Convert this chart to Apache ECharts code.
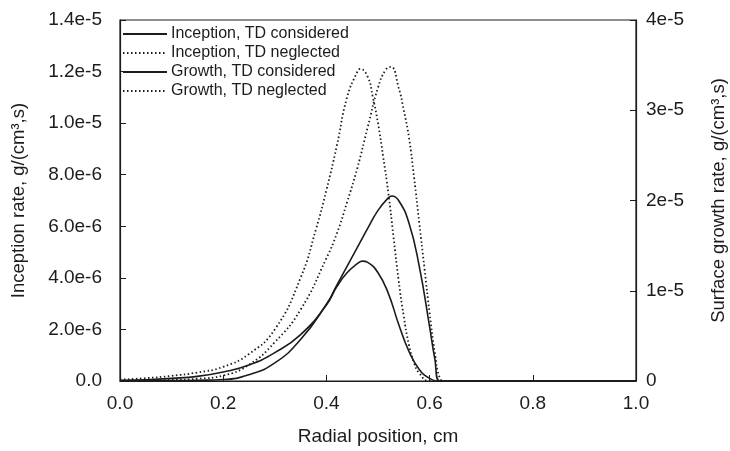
<!DOCTYPE html>
<html>
<head>
<meta charset="utf-8">
<script src="https://cdn.jsdelivr.net/npm/echarts@6/dist/echarts.min.js"></script>
<style>
html,body{margin:0;padding:0;background:#fff;}
#c{width:730px;height:451px;}
</style>
</head>
<body>
<div id="c"></div>
<script>
// ---- Data ----
const seriesNames = ['Inception, TD considered', 'Inception, TD neglected', 'Growth, TD considered', 'Growth, TD neglected'];

// Inception, TD considered (left axis, g/(cm3,s))
const incConsX = [0, 0.05, 0.1, 0.15, 0.2, 0.25, 0.3, 0.35, 0.4, 0.42, 0.44, 0.46, 0.47, 0.48, 0.5, 0.52, 0.54, 0.56, 0.58, 0.6, 0.62, 0.7, 1.0];
const incConsY = [3e-8, 5e-8, 1e-7, 1.8e-7, 3.5e-7, 6.2e-7, 1.1e-6, 1.8e-6, 2.95e-6, 3.65e-6, 4.2e-6, 4.55e-6, 4.65e-6, 4.6e-6, 4.2e-6, 3.4e-6, 2.2e-6, 1.15e-6, 4.5e-7, 1e-7, 0, 0, 0];

// Inception, TD neglected (left axis)
const incNegX = [0, 0.05, 0.1, 0.15, 0.2, 0.25, 0.3, 0.35, 0.38, 0.4, 0.42, 0.44, 0.46, 0.465, 0.48, 0.49, 0.5, 0.51, 0.52, 0.53, 0.54, 0.55, 0.56, 0.57, 0.58, 0.6, 0.7, 1.0];
const incNegY = [5e-8, 1.1e-7, 2e-7, 3.3e-7, 5.5e-7, 1.05e-6, 2.0e-6, 4.0e-6, 5.9e-6, 7.4e-6, 9.1e-6, 1.1e-5, 1.2e-5, 1.21e-5, 1.18e-5, 1.1e-5, 1.0e-5, 8.7e-6, 7.3e-6, 5.6e-6, 3.9e-6, 2.5e-6, 1.4e-6, 7e-7, 3e-7, 0, 0, 0];

// Growth, TD considered (right axis)
const grConsX = [0, 0.05, 0.1, 0.15, 0.2, 0.25, 0.3, 0.35, 0.4, 0.42, 0.44, 0.46, 0.48, 0.5, 0.52, 0.527, 0.54, 0.56, 0.58, 0.6, 0.61, 0.62, 0.7, 1.0];
const grConsY = [0, 2e-8, 4e-8, 8e-8, 1.6e-7, 7e-7, 2.0e-6, 4.6e-6, 8.5e-6, 1.06e-5, 1.27e-5, 1.48e-5, 1.69e-5, 1.89e-5, 2.03e-5, 2.05e-5, 2.0e-5, 1.75e-5, 1.27e-5, 6e-6, 2.5e-6, 0, 0, 0];

// Growth, TD neglected (right axis)
const grNegX = [0, 0.05, 0.1, 0.15, 0.2, 0.25, 0.3, 0.35, 0.4, 0.42, 0.44, 0.46, 0.48, 0.5, 0.515, 0.525, 0.54, 0.55, 0.56, 0.57, 0.58, 0.59, 0.6, 0.61, 0.62, 0.63, 0.7, 1.0];
const grNegY = [2e-8, 5e-8, 1.2e-7, 2.5e-7, 6e-7, 1.8e-6, 4.3e-6, 7.9e-6, 1.36e-5, 1.63e-5, 1.98e-5, 2.36e-5, 2.81e-5, 3.25e-5, 3.45e-5, 3.48e-5, 3.25e-5, 3.0e-5, 2.7e-5, 2.25e-5, 1.75e-5, 1.25e-5, 7.5e-6, 3.2e-6, 3e-7, 0, 0, 0];

// Tick labels
const xTickLabels = ['0.0', '0.2', '0.4', '0.6', '0.8', '1.0'];
const leftTickLabels = ['0.0', '2.0e-6', '4.0e-6', '6.0e-6', '8.0e-6', '1.0e-5', '1.2e-5', '1.4e-5'];
const rightTickLabels = ['0', '1e-5', '2e-5', '3e-5', '4e-5'];

// ---- Chart ----
const pairs = (xs, ys) => xs.map((x, i) => [x, ys[i]]);
const ink = '#1c1c1c';
const font = 'Liberation Sans, Arial, Helvetica, sans-serif';

const chart = echarts.init(document.getElementById('c'), null, {renderer: 'canvas'});

const solid = {color: ink, width: 1.6, type: 'solid'};
const dotted = {color: ink, width: 1.8, type: [1.5, 2.5]};

function mkSeries(name, data, yIdx, ls) {
  return {
    name: name, type: 'line', data: data, yAxisIndex: yIdx,
    showSymbol: false, symbol: 'none', smooth: 0.5,
    lineStyle: ls, itemStyle: {color: ink}, animation: false, z: 3
  };
}

chart.setOption({
  animation: false,
  backgroundColor: '#fff',
  grid: {left: 120, right: 94, top: 20, bottom: 70, show: true, borderColor: ink, borderWidth: 1.2,
    backgroundColor: 'transparent', containLabel: false, outerBoundsMode: 'none'},
  legend: {
    orient: 'vertical', left: 117, top: 21,
    itemWidth: 44, itemHeight: 14, itemGap: 3,
    itemStyle: {opacity: 0},
    textStyle: {fontFamily: font, fontSize: 16, color: ink, padding: [0, 0, 0, -1]},
    data: seriesNames.map(n => ({name: n}))
  },
  xAxis: {
    type: 'value', min: 0, max: 1, interval: 0.2,
    name: 'Radial position, cm', nameLocation: 'middle', nameGap: 46,
    nameTextStyle: {fontFamily: font, fontSize: 19, color: ink},
    axisLine: {show: true, lineStyle: {color: ink, width: 1.2}},
    axisTick: {show: true, inside: true, length: 6, lineStyle: {color: ink}},
    axisLabel: {fontFamily: font, fontSize: 19, color: ink, margin: 13,
      formatter: v => xTickLabels[Math.round(v / 0.2)]},
    splitLine: {show: false}
  },
  yAxis: [{
    type: 'value', min: 0, max: 1.4e-5, interval: 2e-6, position: 'left',
    name: 'Inception rate, g/(cm\u00B3,s)', nameLocation: 'middle', nameGap: 92, nameRotate: 90,
    nameTextStyle: {fontFamily: font, fontSize: 18.5, color: ink},
    axisLine: {show: true, lineStyle: {color: ink, width: 1.2}},
    axisTick: {show: true, inside: true, length: 6, lineStyle: {color: ink}},
    axisLabel: {fontFamily: font, fontSize: 19, color: ink, margin: 18,
      formatter: v => leftTickLabels[Math.round(v / 2e-6)]},
    splitLine: {show: false}
  }, {
    type: 'value', min: 0, max: 4e-5, interval: 1e-5, position: 'right',
    name: 'Surface growth rate, g/(cm\u00B3,s)', nameLocation: 'middle', nameGap: 73, nameRotate: 90,
    nameTextStyle: {fontFamily: font, fontSize: 18.5, color: ink},
    axisLine: {show: true, lineStyle: {color: ink, width: 1.2}},
    axisTick: {show: true, inside: true, length: 6, lineStyle: {color: ink}},
    axisLabel: {fontFamily: font, fontSize: 19, color: ink, margin: 10,
      formatter: v => rightTickLabels[Math.round(v / 1e-5)]},
    splitLine: {show: false}
  }],
  series: [
    mkSeries(seriesNames[0], pairs(incConsX, incConsY), 0, solid),
    mkSeries(seriesNames[1], pairs(incNegX, incNegY), 0, dotted),
    mkSeries(seriesNames[2], pairs(grConsX, grConsY), 1, solid),
    mkSeries(seriesNames[3], pairs(grNegX, grNegY), 1, dotted)
  ]
});
</script>
</body>
</html>
